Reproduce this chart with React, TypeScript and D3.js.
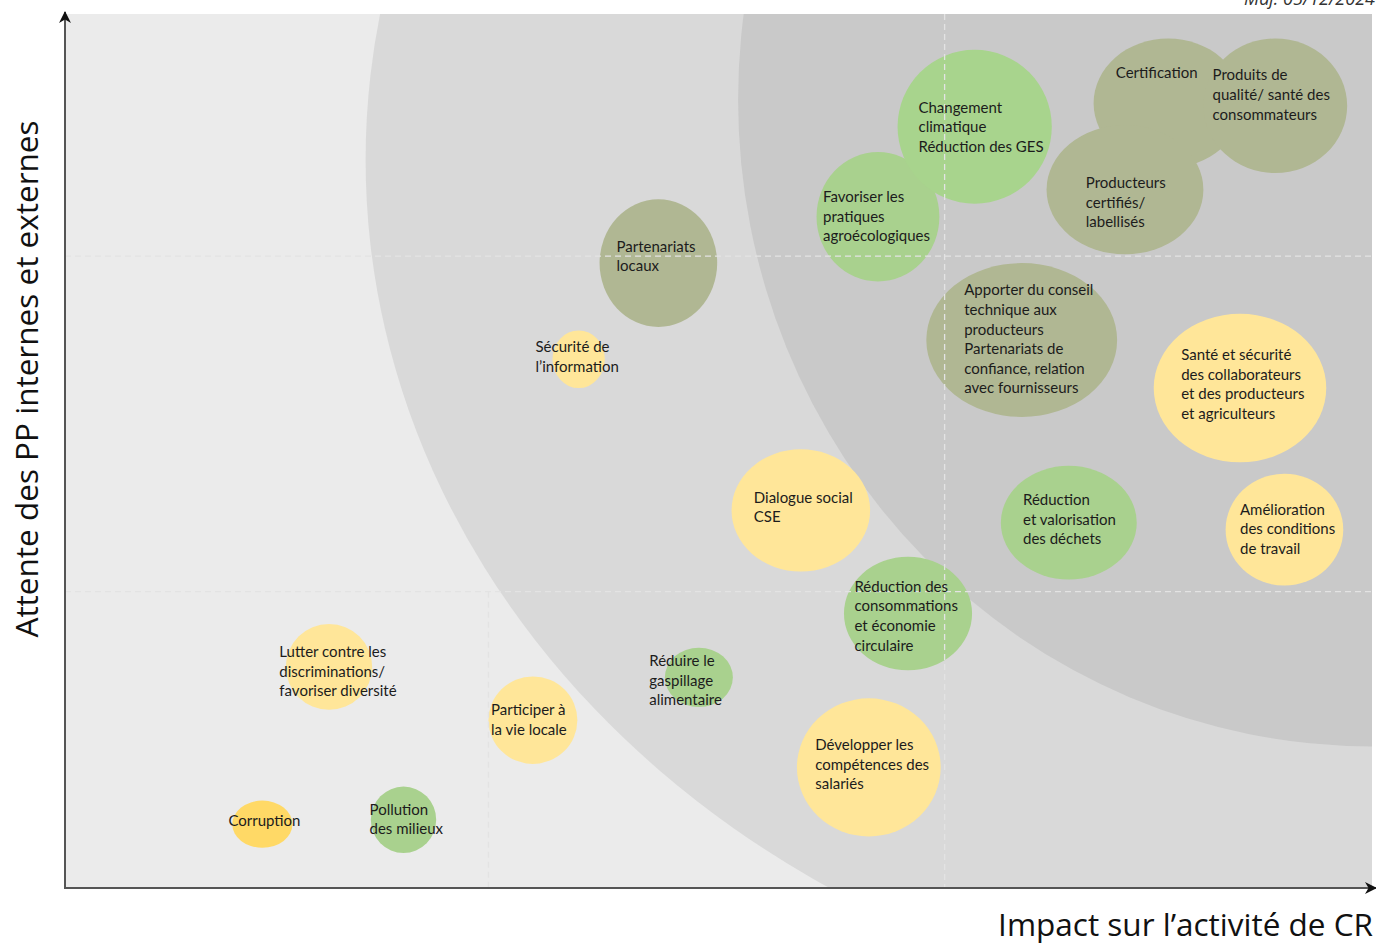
import * as d3 from "d3";

const W = 1376;
const H = 943;

// enjeux de la matrice de matérialité
const labels: string[][] = [
  ["Corruption"],
  ["Pollution", "des milieux"],
  ["Lutter contre les", "discriminations/", "favoriser diversité"],
  ["Participer à", "la vie locale"],
  ["Réduire le", "gaspillage", "alimentaire"],
  ["Développer les", "compétences des", "salariés"],
  ["Réduction des", "consommations", "et économie", "circulaire"],
  ["Dialogue social", "CSE"],
  ["Sécurité de", "l’information"],
  ["Partenariats", "locaux"],
  ["Favoriser les", "pratiques", "agroécologiques"],
  ["Changement", "climatique", "Réduction des GES"],
  ["Certification"],
  ["Produits de", "qualité/ santé des", "consommateurs"],
  ["Producteurs", "certifiés/", "labellisés"],
  ["Apporter du conseil", "technique aux", "producteurs", "Partenariats de", "confiance, relation", "avec fournisseurs"],
  ["Santé et sécurité", "des collaborateurs", "et des producteurs", "et agriculteurs"],
  ["Réduction", "et valorisation", "des déchets"],
  ["Amélioration", "des conditions", "de travail"],
];

// impact sur l'activité (0-100)
const impact = [15.1, 25.9, 20.2, 35.8, 48.5, 61.5, 64.5, 56.3, 39.3, 45.4, 62.2, 69.6, 84.4, 92.6, 81.1, 73.2, 89.9, 76.8, 93.3];
// attente des parties prenantes (0-100)
const attente = [7.3, 7.8, 25.3, 19.2, 24.1, 13.8, 31.4, 43.2, 60.5, 71.5, 76.8, 87.1, 89.8, 89.5, 79.9, 62.7, 57.2, 41.8, 41.0];
// demi-axes des bulles (mêmes unités)
const sizeX = [2.3, 2.5, 3.3, 3.4, 2.6, 5.5, 4.9, 5.3, 2.0, 4.5, 4.7, 5.9, 5.7, 5.5, 6.0, 7.3, 6.6, 5.2, 4.5];
const sizeY = [2.7, 3.8, 4.9, 5.0, 3.4, 7.9, 6.5, 7.0, 3.3, 7.3, 7.4, 8.8, 7.4, 7.7, 7.4, 8.8, 8.5, 6.5, 6.4];
// famille : S social, E environnement, G gouvernance/filière, C corruption, K climat
const family = ["C", "E", "S", "S", "E", "S", "E", "S", "S", "G", "E", "K", "G", "G", "G", "G", "S", "E", "S"];
// point d'ancrage du texte (début de la 1re ligne)
const labelX = [12.5, 23.3, 16.4, 32.6, 44.7, 57.4, 60.4, 52.7, 36.0, 42.2, 58.0, 65.3, 80.4, 87.8, 78.1, 68.8, 85.4, 73.3, 89.9];
const labelY = [7.1, 8.4, 26.4, 19.8, 25.4, 15.8, 33.9, 44.1, 61.3, 72.8, 78.5, 88.7, 92.7, 92.4, 80.1, 67.8, 60.4, 43.8, 42.7];

// zones de priorité (ellipses)
const zoneCx = [100, 100];
const zoneCy = [83.3, 90.2];
const zoneRx = [77.0, 48.5];
const zoneRy = [98.9, 74.0];
const zoneFill = ["#d9d9d9", "#c9c9c9"];

const gridX = [32.4, 67.3];
const gridY = [33.9, 72.3];

const colors: Record<string, string> = {
  S: "#ffe699",
  E: "#a9d18e",
  G: "#b0b793",
  C: "#ffd966",
  K: "#a8d48d",
};

export default function App() {
  const left = 65, right = 1372, top = 14, bottom = 888;
  const x = d3.scaleLinear().domain([0, 100]).range([left, right]);
  const y = d3.scaleLinear().domain([0, 100]).range([bottom, top]);
  const kx = x(1) - x(0);
  const ky = y(0) - y(1);

  return (
    <svg width={W} height={H} style={{ position: "absolute", left: 0, top: 0, background: "#fff" }}>
      <defs>
        <clipPath id="plot">
          <rect x={left} y={top} width={right - left} height={bottom - top} />
        </clipPath>
        <marker id="arrow" viewBox="0 0 12 12" refX="11" refY="6" markerWidth="12" markerHeight="12" markerUnits="userSpaceOnUse" orient="auto">
          <path d="M0,0 L12,6 L0,12 L3.5,6 Z" fill="#111" />
        </marker>
      </defs>

      <text x={1375} y={5} textAnchor="end" fontFamily="Open Sans" fontStyle="italic" fontSize={18} fill="#333">
        Maj. 05/12/2024
      </text>

      <rect x={left} y={top} width={right - left} height={bottom - top} fill="#ebebeb" />
      <g clipPath="url(#plot)">
        {zoneCx.map((c, i) => (
          <ellipse key={i} cx={x(c)} cy={y(zoneCy[i])} rx={zoneRx[i] * kx} ry={zoneRy[i] * ky} fill={zoneFill[i]} />
        ))}
        {labels.map((_, i) => (
          <ellipse
            key={"b" + i}
            cx={x(impact[i])}
            cy={y(attente[i])}
            rx={sizeX[i] * kx}
            ry={sizeY[i] * ky}
            fill={colors[family[i]]}
          />
        ))}
        <g stroke="#e3e3e3" strokeWidth={1.3} strokeDasharray="6 4" fill="none">
          {gridY.map((g) => (
            <line key={"gy" + g} x1={left} x2={right} y1={y(g)} y2={y(g)} />
          ))}
          <line x1={x(gridX[0])} x2={x(gridX[0])} y1={y(gridY[0])} y2={bottom} />
          <line x1={x(gridX[1])} x2={x(gridX[1])} y1={top} y2={bottom} />
        </g>
      </g>

      <g fontFamily="Lato" fontSize={15} fill="#1c1c1c">
        {labels.map((lines, i) => (
          <text key={"t" + i} x={x(labelX[i])} y={y(labelY[i])}>
            {lines.map((l, j) => (
              <tspan key={j} x={x(labelX[i])} dy={j === 0 ? 0 : 19.6}>
                {l}
              </tspan>
            ))}
          </text>
        ))}
      </g>

      <line x1={left} y1={bottom} x2={left} y2={12} stroke="#555" strokeWidth={2} markerEnd="url(#arrow)" />
      <line x1={left - 1} y1={bottom} x2={1376} y2={bottom} stroke="#555" strokeWidth={2} markerEnd="url(#arrow)" />

      <text
        transform={`translate(38,${379}) rotate(-90)`}
        textAnchor="middle"
        fontFamily="Open Sans"
        fontSize={31.5}
        fill="#111"
      >
        Attente des PP internes et externes
      </text>
      <text x={1373} y={936} textAnchor="end" fontFamily="Open Sans" fontSize={31.5} fill="#111">
        Impact sur l’activité de CR
      </text>
    </svg>
  );
}
